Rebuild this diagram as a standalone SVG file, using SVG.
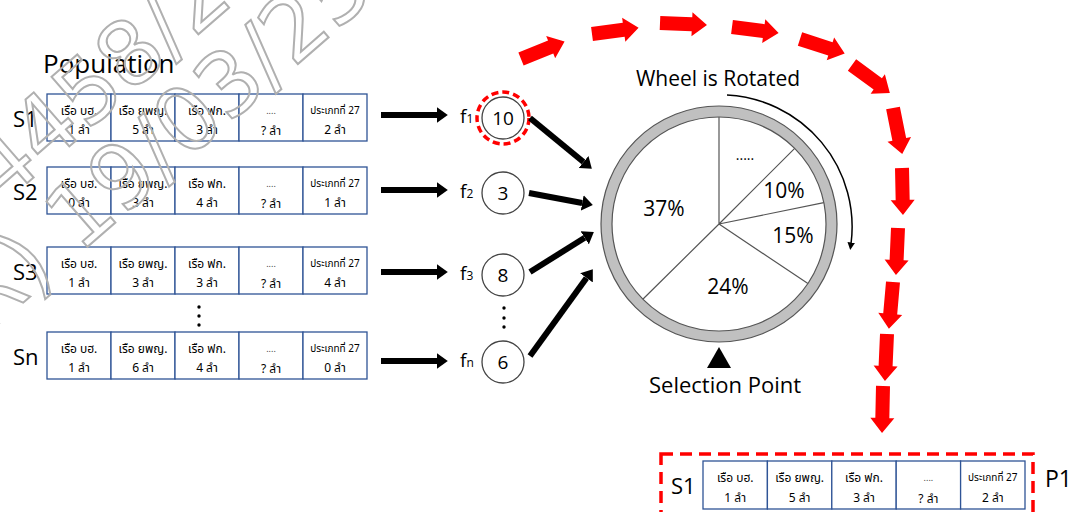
<svg xmlns="http://www.w3.org/2000/svg" width="1072" height="512" viewBox="0 0 1072 512">
<style>
.lat{font-family:"Open Sans","Noto Sans","DejaVu Sans",sans-serif;fill:#000}
.th{font-family:"Noto Sans Thai","Noto Sans","DejaVu Sans",sans-serif;font-size:12px;text-anchor:middle;fill:#000}
.th2{font-size:10px}
.dots{font-size:9px;fill:#444}
.cell{fill:#fff;stroke:#2F5496;stroke-width:1.3}
.blk{stroke:#000;stroke-width:6;marker-end:url(#ah);fill:none}
.node{fill:#fff;stroke:#444;stroke-width:1.3}
.pie{stroke:#555;stroke-width:1.2;fill:none}
.red{fill:#ff0000}
.wm{font-family:"DejaVu Sans",sans-serif;font-size:88px;fill:none;stroke:#b0b0b0;stroke-width:2}
</style>
<defs>
<marker id="ah" viewBox="0 0 10 10" refX="0" refY="5" markerWidth="1.8" markerHeight="2.6" orient="auto" preserveAspectRatio="none"><path d="M0,0 L10,5 L0,10 z" fill="#000"/></marker>
<marker id="sa" viewBox="0 0 10 10" refX="2" refY="5" markerWidth="5" markerHeight="5" orient="auto" preserveAspectRatio="none"><path d="M0,0 L10,5 L0,10 z" fill="#000"/></marker>
<path id="ra" d="M0,-7 L32,-7 L32,-12 L47,0 L32,12 L32,7 L0,7 Z"/>
</defs>
<rect width="1072" height="512" fill="#fff"/>

<text class="lat" x="43" y="73" font-size="26">Population</text>

<g id="row-s1">
<text class="lat" x="13" y="127" font-size="22">S1</text>
<g transform="translate(47,94)">
<rect class="cell" x="0" y="0" width="64" height="47"/><rect class="cell" x="64" y="0" width="64" height="47"/><rect class="cell" x="128" y="0" width="64" height="47"/><rect class="cell" x="192" y="0" width="64" height="47"/><rect class="cell" x="256" y="0" width="64" height="47"/>
<text class="th" x="32" y="21">เรือ บฮ.</text><text class="th" x="96" y="21">เรือ ยพญ.</text><text class="th" x="160" y="21">เรือ ฟก.</text><text class="th dots" x="224" y="20">....</text><text class="th th2" x="288" y="20">ประเภทที่ 27</text>
<text class="th" x="32" y="40">1 ลำ</text><text class="th" x="96" y="40">5 ลำ</text><text class="th" x="160" y="40">3 ลำ</text><text class="th" x="224" y="41">? ลำ</text><text class="th" x="288" y="40">2 ลำ</text>
</g>
</g>

<g id="row-s2">
<text class="lat" x="13" y="200" font-size="22">S2</text>
<g transform="translate(47,167)">
<rect class="cell" x="0" y="0" width="64" height="47"/><rect class="cell" x="64" y="0" width="64" height="47"/><rect class="cell" x="128" y="0" width="64" height="47"/><rect class="cell" x="192" y="0" width="64" height="47"/><rect class="cell" x="256" y="0" width="64" height="47"/>
<text class="th" x="32" y="21">เรือ บฮ.</text><text class="th" x="96" y="21">เรือ ยพญ.</text><text class="th" x="160" y="21">เรือ ฟก.</text><text class="th dots" x="224" y="20">....</text><text class="th th2" x="288" y="20">ประเภทที่ 27</text>
<text class="th" x="32" y="40">0 ลำ</text><text class="th" x="96" y="40">3 ลำ</text><text class="th" x="160" y="40">4 ลำ</text><text class="th" x="224" y="41">? ลำ</text><text class="th" x="288" y="40">1 ลำ</text>
</g>
</g>

<g id="row-s3">
<text class="lat" x="13" y="280" font-size="22">S3</text>
<g transform="translate(47,247)">
<rect class="cell" x="0" y="0" width="64" height="47"/><rect class="cell" x="64" y="0" width="64" height="47"/><rect class="cell" x="128" y="0" width="64" height="47"/><rect class="cell" x="192" y="0" width="64" height="47"/><rect class="cell" x="256" y="0" width="64" height="47"/>
<text class="th" x="32" y="21">เรือ บฮ.</text><text class="th" x="96" y="21">เรือ ยพญ.</text><text class="th" x="160" y="21">เรือ ฟก.</text><text class="th dots" x="224" y="20">....</text><text class="th th2" x="288" y="20">ประเภทที่ 27</text>
<text class="th" x="32" y="40">1 ลำ</text><text class="th" x="96" y="40">3 ลำ</text><text class="th" x="160" y="40">3 ลำ</text><text class="th" x="224" y="41">? ลำ</text><text class="th" x="288" y="40">4 ลำ</text>
</g>
</g>

<g id="row-dots" fill="#000">
<circle cx="199" cy="307" r="1.7"/><circle cx="199" cy="316" r="1.7"/><circle cx="199" cy="325" r="1.7"/>
</g>

<g id="row-sn">
<text class="lat" x="13" y="365" font-size="22">Sn</text>
<g transform="translate(47,332)">
<rect class="cell" x="0" y="0" width="64" height="47"/><rect class="cell" x="64" y="0" width="64" height="47"/><rect class="cell" x="128" y="0" width="64" height="47"/><rect class="cell" x="192" y="0" width="64" height="47"/><rect class="cell" x="256" y="0" width="64" height="47"/>
<text class="th" x="32" y="21">เรือ บฮ.</text><text class="th" x="96" y="21">เรือ ยพญ.</text><text class="th" x="160" y="21">เรือ ฟก.</text><text class="th dots" x="224" y="20">....</text><text class="th th2" x="288" y="20">ประเภทที่ 27</text>
<text class="th" x="32" y="40">1 ลำ</text><text class="th" x="96" y="40">6 ลำ</text><text class="th" x="160" y="40">4 ลำ</text><text class="th" x="224" y="41">? ลำ</text><text class="th" x="288" y="40">0 ลำ</text>
</g>
</g>

<g id="fitness">
<g id="f1"><text class="lat" x="460" y="123" font-size="19">f<tspan font-size="12">1</tspan></text><circle class="node" cx="503" cy="118" r="21"/><text class="lat" x="503" y="125" font-size="19" text-anchor="middle">10</text>
<circle cx="503" cy="118" r="26" fill="none" stroke="#ff0000" stroke-width="3.5" stroke-dasharray="7 4"/></g>
<g id="f2"><text class="lat" x="460" y="198" font-size="19">f<tspan font-size="12">2</tspan></text><circle class="node" cx="503" cy="193" r="21"/><text class="lat" x="503" y="200" font-size="19" text-anchor="middle">3</text></g>
<g id="f3"><text class="lat" x="460" y="280" font-size="19">f<tspan font-size="12">3</tspan></text><circle class="node" cx="503" cy="275" r="21"/><text class="lat" x="503" y="282" font-size="19" text-anchor="middle">8</text></g>
<g id="f-dots" fill="#000"><circle cx="504" cy="308" r="1.7"/><circle cx="504" cy="318" r="1.7"/><circle cx="504" cy="327" r="1.7"/></g>
<g id="fn"><text class="lat" x="460" y="367" font-size="19">f<tspan font-size="12">n</tspan></text><circle class="node" cx="503" cy="362" r="21"/><text class="lat" x="503" y="369" font-size="19" text-anchor="middle">6</text></g>
</g>

<g id="wheel">
<text class="lat" x="718" y="86" font-size="21" text-anchor="middle">Wheel is Rotated</text>
<circle cx="719" cy="224" r="112.5" fill="#fff" stroke="#c0c0c0" stroke-width="11"/>
<circle cx="719" cy="224" r="118" fill="none" stroke="#555" stroke-width="1.2"/>
<circle cx="719" cy="224" r="107" fill="none" stroke="#555" stroke-width="1.2"/>
<path class="pie" d="M719,224 L719,117 M719,224 L794.7,148.3 M719,224 L823.8,202.7 M719,224 L807.9,283.6 M719,224 L642.8,299.2"/>
<text class="lat" x="745" y="160" font-size="14" text-anchor="middle">.....</text>
<text class="lat" x="784" y="198" font-size="21" text-anchor="middle">10%</text>
<text class="lat" x="793" y="243" font-size="21" text-anchor="middle">15%</text>
<text class="lat" x="728" y="294" font-size="21" text-anchor="middle">24%</text>
<text class="lat" x="664" y="216" font-size="21" text-anchor="middle">37%</text>
<path d="M727,95 A132,132 0 0 1 851,244" fill="none" stroke="#000" stroke-width="1.5" marker-end="url(#sa)"/>
<polygon points="719,347 707,368 731,368" fill="#000"/>
<text class="lat" x="725" y="393" font-size="22" text-anchor="middle">Selection Point</text>
</g>

<g id="connectors">
<line class="blk" x1="381" y1="115" x2="437" y2="115"/>
<line class="blk" x1="381" y1="190" x2="437" y2="190"/>
<line class="blk" x1="381" y1="272" x2="437" y2="272"/>
<line class="blk" x1="381" y1="361" x2="437" y2="361"/>
<line class="blk" x1="530" y1="118" x2="583.5" y2="162"/>
<line class="blk" x1="529" y1="193" x2="582.2" y2="203"/>
<line class="blk" x1="530" y1="272" x2="584.7" y2="237.8"/>
<line class="blk" x1="530" y1="356" x2="586.5" y2="277.9"/>
</g>

<g id="selection-path" class="red">
<use href="#ra" transform="translate(521,59) rotate(-22)"/>
<use href="#ra" transform="translate(592,34) rotate(-7.6)"/>
<use href="#ra" transform="translate(660,23) rotate(2.4)"/>
<use href="#ra" transform="translate(732,27) rotate(7.4)"/>
<use href="#ra" transform="translate(800,39) rotate(18)"/>
<use href="#ra" transform="translate(852,65) rotate(36.4)"/>
<use href="#ra" transform="translate(893,108) rotate(78.7)"/>
<use href="#ra" transform="translate(902,168) rotate(88.8)"/>
<use href="#ra" transform="translate(898,228) rotate(92.5)"/>
<use href="#ra" transform="translate(893,282) rotate(95)"/>
<use href="#ra" transform="translate(887,334) rotate(92.5)"/>
<use href="#ra" transform="translate(883,386) rotate(91.2)"/>
</g>

<g id="result-p1">
<rect x="661" y="454" width="372" height="80" fill="none" stroke="#ff0000" stroke-width="3.5" stroke-dasharray="12 7"/>
<text class="lat" x="671" y="494" font-size="22">S1</text>
<g transform="translate(703,461)">
<rect class="cell" x="0" y="0" width="64.4" height="48"/><rect class="cell" x="64.4" y="0" width="64.4" height="48"/><rect class="cell" x="128.8" y="0" width="64.4" height="48"/><rect class="cell" x="193.2" y="0" width="64.4" height="48"/><rect class="cell" x="257.6" y="0" width="64.4" height="48"/>
<text class="th" x="32.2" y="21">เรือ บฮ.</text><text class="th" x="96.6" y="21">เรือ ยพญ.</text><text class="th" x="161" y="21">เรือ ฟก.</text><text class="th dots" x="225.4" y="20">....</text><text class="th th2" x="289.8" y="20">ประเภทที่ 27</text>
<text class="th" x="32.2" y="41">1 ลำ</text><text class="th" x="96.6" y="41">5 ลำ</text><text class="th" x="161" y="41">3 ลำ</text><text class="th" x="225.4" y="42">? ลำ</text><text class="th" x="289.8" y="41">2 ลำ</text>
</g>
<text class="lat" x="1045" y="487" font-size="23">P1</text>
</g>

<g id="watermark">
<text class="wm" transform="translate(2,205) rotate(-41)">4458/25</text>
<text class="wm" transform="translate(-14,335) rotate(-41)">R) 19/03/256</text>
</g>
</svg>
